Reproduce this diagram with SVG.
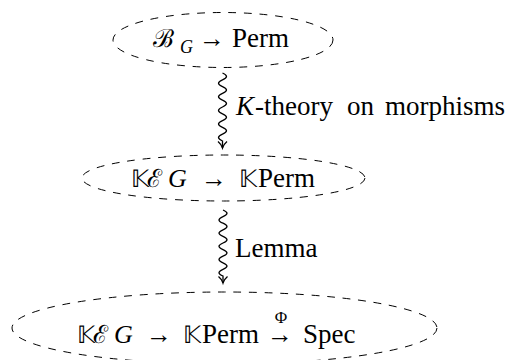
<svg xmlns="http://www.w3.org/2000/svg" width="513" height="360" viewBox="0 0 513 360">
<rect width="513" height="360" fill="#fff"/>
<g id="labels">
<text x="235" y="257" font-family="Liberation Serif" style="font-family:'Liberation Serif'" font-size="27">Lemma</text>
<text x="236" y="115" font-family="Liberation Serif" style="font-family:'Liberation Serif'" font-size="27" font-style="italic">K</text>
<text x="255" y="115" font-family="Liberation Serif" style="font-family:'Liberation Serif'" font-size="27">-theory</text>
<text x="347" y="115" font-family="Liberation Serif" style="font-family:'Liberation Serif'" font-size="27">on</text>
<text x="385" y="115" font-family="Liberation Serif" style="font-family:'Liberation Serif'" font-size="27">morphisms</text>
</g>
<g id="connectors" fill="none" stroke="#000" stroke-width="1.3">
<path d="M222.5,73 q8,3.4 0,6.8 t0,6.8 t0,6.8 t0,6.8 t0,6.8 t0,6.8 t0,6.8 t0,6.8 t0,6.8 t0,6.8 L222.5,148"/>
<path d="M218,141.5 Q221.5,144.5 222.5,148 Q223.5,144.5 227,141.5"/>
<path d="M223,210 q8,3.3 0,6.6 t0,6.6 t0,6.6 t0,6.6 t0,6.6 t0,6.6 t0,6.6 t0,6.6 t0,6.6 t0,6.6 L223,283"/>
<path d="M218.5,276.5 Q222,279.5 223,283 Q224,279.5 227.5,276.5"/>
</g>
<g id="node1">
<ellipse cx="223" cy="40" rx="110" ry="27.5" fill="none" stroke="#000" stroke-width="1" stroke-dasharray="7.8 7.8"/>
<text x="232" y="47" font-family="Liberation Serif" style="font-family:'Liberation Serif'" font-size="27">Perm</text>
<text x="199" y="47" font-family="Liberation Serif" style="font-family:'Liberation Serif'" font-size="26">→</text>
<text x="180" y="53" font-family="Liberation Serif" style="font-family:'Liberation Serif'" font-style="italic" font-size="18">G</text>
<text x="153" y="47" font-family="Liberation Serif" style="font-family:'Liberation Serif'" font-size="25">ℬ</text>
</g>
<g id="node2">
<ellipse cx="223.5" cy="178" rx="141.5" ry="23" fill="none" stroke="#000" stroke-width="1" stroke-dasharray="7.8 7.8"/>
<text x="258" y="187" font-family="Liberation Serif" style="font-family:'Liberation Serif'" font-size="27">Perm</text>
<text x="201" y="187" font-family="Liberation Serif" style="font-family:'Liberation Serif'" font-size="26">→</text>
<text x="168" y="187" font-family="Liberation Serif" style="font-family:'Liberation Serif'" font-size="26" font-style="italic">G</text>
<text x="131" y="187" font-family="Liberation Serif" style="font-family:'Liberation Serif'" font-size="24">𝕂</text>
<text x="147" y="187" font-family="Liberation Serif" style="font-family:'Liberation Serif'" font-size="25">ℰ</text>
<text x="239" y="187" font-family="Liberation Serif" style="font-family:'Liberation Serif'" font-size="24">𝕂</text>
</g>
<g id="node3">
<ellipse cx="224.5" cy="328" rx="212.5" ry="36" fill="none" stroke="#000" stroke-width="1" stroke-dasharray="7.8 7.8"/>
<text x="202" y="343" font-family="Liberation Serif" style="font-family:'Liberation Serif'" font-size="27">Perm</text>
<text x="303" y="343" font-family="Liberation Serif" style="font-family:'Liberation Serif'" font-size="27">Spec</text>
<text x="146" y="343" font-family="Liberation Serif" style="font-family:'Liberation Serif'" font-size="26">→</text>
<text x="267" y="343" font-family="Liberation Serif" style="font-family:'Liberation Serif'" font-size="26">→</text>
<text x="281" y="323" font-family="Liberation Serif" style="font-family:'Liberation Serif'" font-size="17" text-anchor="middle">Φ</text>
<text x="114" y="343" font-family="Liberation Serif" style="font-family:'Liberation Serif'" font-size="26" font-style="italic">G</text>
<text x="77" y="343" font-family="Liberation Serif" style="font-family:'Liberation Serif'" font-size="24">𝕂</text>
<text x="93" y="343" font-family="Liberation Serif" style="font-family:'Liberation Serif'" font-size="25">ℰ</text>
<text x="183" y="343" font-family="Liberation Serif" style="font-family:'Liberation Serif'" font-size="24">𝕂</text>
</g>
</svg>
